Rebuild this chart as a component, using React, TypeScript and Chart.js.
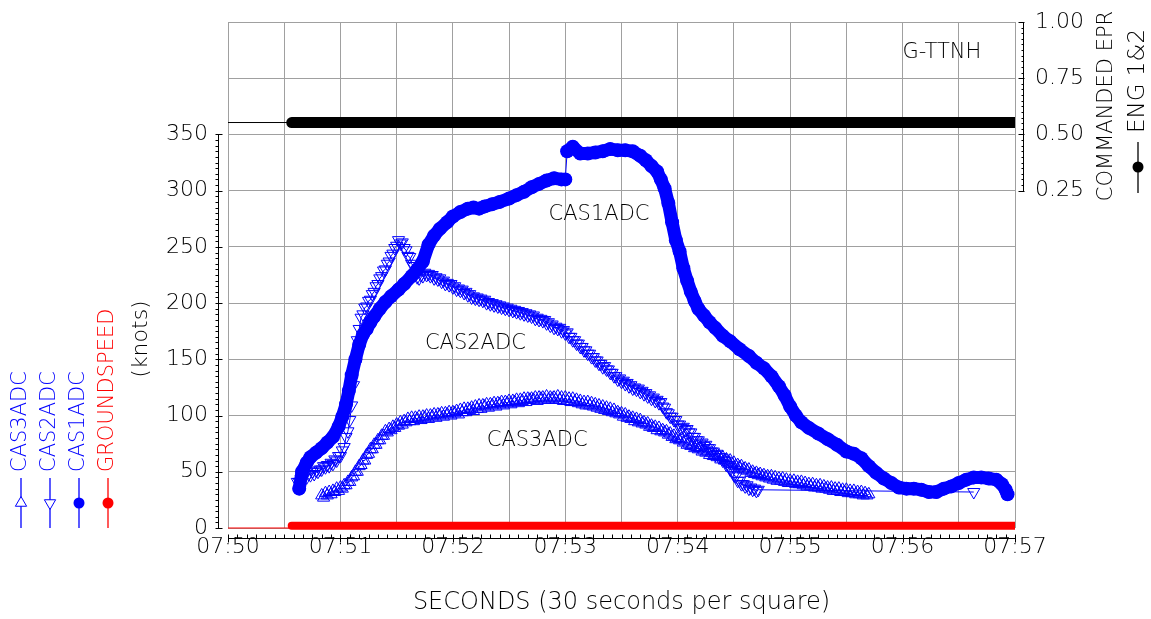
import React, { useEffect, useRef } from 'react';
import { Chart, registerables } from 'chart.js';

Chart.register(...registerables);

// ---------------- data ----------------
// time axis: seconds after 07:50:00
const X_MIN_S = 0;
const X_MAX_S = 420;
const X_GRID_STEP_S = 30;
const X_LABEL_STEP_S = 60;
const BASE_HOUR = 7;
const BASE_MINUTE = 50;

const KNOTS_MIN = 0;
const KNOTS_MAX = 450;
const KNOTS_STEP = 50;
const KNOTS_LABEL_MAX = 350;

const EPR_MIN = -1.25;
const EPR_MAX = 1.0;
const EPR_STEP = 0.25;
const EPR_LABEL_MIN = 0.25;

// CAS1ADC (filled circles)
const CAS1_TIMES = [
  38, 39.5, 42, 44, 47, 50, 53, 56, 59, 61, 63, 64.5, 66, 68, 70, 72, 74, 76, 78, 81,
  84, 87, 91, 94, 98, 101, 104, 107, 110, 113, 117, 120, 124, 128, 131, 134, 137, 141, 145, 150,
  154, 158, 162, 166, 170, 174, 178, 180, 181, 184, 188, 192, 196, 200, 204, 208, 212, 216, 220, 223,
  226, 229, 231, 233, 235, 237, 239, 241, 243, 245, 247, 249, 251, 254, 257, 260, 264, 268, 273, 278,
  282, 286, 290, 294, 297, 300, 303, 306, 310, 315, 320, 325, 330, 334, 338, 342, 346, 350, 354, 358,
  362, 366, 370, 374, 378, 382, 386, 390, 394, 398, 402, 406, 410, 413, 415, 416,
];
const CAS1_KNOTS = [
  35, 50, 58, 63, 67, 71, 76, 81, 90, 99, 110, 122, 136, 150, 163, 172, 177, 183, 188, 195,
  201, 206, 212, 217, 224, 230, 237, 252, 260, 266, 272, 277, 281, 284, 285, 284, 286, 288, 290, 293,
  296, 299, 303, 306, 309, 311, 310, 310, 335, 339, 333, 333, 334, 335, 337, 336, 336, 335, 331, 327,
  322, 317, 310, 302, 289, 272, 256, 246, 231, 220, 210, 202, 195, 189, 183, 178, 171, 166, 159, 153,
  147, 142, 135, 126, 118, 108, 100, 94, 89, 84, 79, 74, 68, 66, 62, 55, 49, 44, 40, 36,
  35, 35, 34, 32, 32, 35, 37, 40, 43, 45, 45, 44, 43, 39, 34, 30,
];

// CAS2ADC (open down triangles), 1 s samples from 37 s, plus one last sample
const CAS2_START_S = 37;
const CAS2_STEP_S = 1;
const CAS2_KNOTS = [
  41, 41, 44, 44, 47, 45, 48, 47, 50, 48,
  51, 50, 52, 52, 55, 54, 56, 55, 58, 57,
  61, 60, 64, 64, 69, 72, 81, 86, 96, 109,
  127, 145, 167, 177, 187, 190, 196, 197, 202, 203,
  208, 210, 215, 217, 222, 224, 229, 230, 235, 237,
  242, 244, 249, 251, 256, 253, 254, 249, 247, 242,
  241, 235, 233, 226, 223, 222, 225, 224, 227, 225,
  226, 224, 225, 222, 223, 221, 222, 219, 220, 217,
  218, 216, 217, 214, 215, 212, 213, 211, 212, 209,
  210, 207, 208, 205, 206, 204, 205, 203, 204, 202,
  203, 200, 201, 199, 200, 198, 199, 197, 198, 196,
  197, 195, 196, 194, 195, 193, 194, 192, 193, 191,
  192, 190, 191, 189, 190, 188, 189, 186, 187, 185,
  186, 184, 185, 182, 183, 180, 181, 178, 179, 177,
  178, 175, 176, 173, 174, 170, 170, 167, 167, 164,
  164, 161, 161, 158, 158, 155, 155, 152, 152, 149,
  149, 146, 146, 143, 144, 141, 141, 138, 138, 135,
  135, 132, 133, 130, 131, 128, 129, 126, 127, 124,
  125, 123, 124, 121, 122, 119, 120, 117, 118, 115,
  116, 113, 114, 111, 112, 108, 107, 103, 102, 99,
  99, 96, 96, 92, 92, 89, 90, 87, 88, 85,
  85, 81, 81, 78, 78, 75, 76, 73, 74, 71,
  71, 68, 68, 65, 66, 63, 63, 60, 60, 56,
  56, 52, 51, 47, 46, 42, 42, 39, 39, 37,
  38, 35, 36, 34, 35, 33, 34,
];
const CAS2_LAST_TIME = 398;
const CAS2_LAST_KNOTS = 32;

// CAS3ADC (open up triangles), 1 s samples from 50 s
const CAS3_START_S = 50;
const CAS3_STEP_S = 1;
const CAS3_KNOTS = [
  29, 27, 31, 29, 32, 30, 33, 32, 35, 33,
  36, 35, 38, 38, 41, 41, 45, 46, 50, 50,
  55, 56, 60, 60, 65, 66, 70, 70, 74, 74,
  78, 78, 82, 82, 86, 85, 88, 87, 90, 89,
  92, 91, 94, 92, 95, 94, 97, 95, 98, 95,
  98, 97, 99, 96, 99, 98, 100, 97, 100, 99,
  101, 98, 101, 100, 102, 99, 102, 101, 103, 100,
  103, 102, 104, 101, 105, 103, 106, 103, 106, 105,
  107, 104, 108, 106, 109, 106, 109, 108, 110, 107,
  110, 109, 111, 108, 111, 110, 112, 109, 112, 111,
  113, 110, 113, 112, 114, 111, 114, 113, 115, 112,
  115, 114, 115, 114, 116, 113, 116, 115, 116, 114,
  117, 114, 116, 115, 116, 114, 117, 114, 116, 113,
  116, 113, 115, 112, 115, 112, 114, 111, 113, 110,
  112, 109, 112, 109, 111, 108, 110, 107, 109, 106,
  108, 105, 107, 104, 106, 103, 105, 102, 103, 101,
  102, 99, 101, 98, 99, 97, 98, 95, 97, 94,
  96, 93, 94, 92, 93, 90, 91, 89, 90, 87,
  89, 86, 87, 85, 86, 83, 84, 81, 82, 79,
  80, 78, 79, 76, 77, 74, 75, 73, 74, 71,
  72, 70, 71, 68, 69, 67, 68, 65, 67, 64,
  65, 63, 64, 61, 63, 60, 61, 59, 60, 57,
  58, 55, 56, 54, 55, 52, 53, 51, 52, 49,
  50, 48, 49, 47, 48, 46, 47, 45, 46, 44,
  46, 43, 45, 42, 44, 42, 44, 41, 43, 40,
  42, 40, 42, 39, 41, 39, 41, 38, 40, 37,
  39, 37, 39, 36, 38, 36, 38, 35, 37, 35,
  36, 34, 36, 33, 35, 33, 35, 32, 34, 32,
  34, 31, 33, 31, 33, 30, 32, 30, 32, 29,
  31, 29, 30,
];

// GROUNDSPEED (red)
const GS_TIMES = [0, 33, 34, 420];
const GS_KNOTS = [0, 0, 2, 2];

// COMMANDED EPR ENG 1&2 (black, right axis)
const EPR_TIMES = [0, 34, 420];
const EPR_VALUES = [0.553, 0.553, 0.553];

// in-plot labels: [text, seconds, knots]
const PLOT_LABELS: [string, number, number][] = [
  ['G-TTNH', 381, 423],
  ['CAS1ADC', 198, 279],
  ['CAS2ADC', 132, 164],
  ['CAS3ADC', 165, 78],
];

// ---------------- helpers ----------------
const FONT = "'DejaVu Sans', sans-serif";
const FW = '200';
const BLUE = '#0000ff';
const RED = '#ff0000';
const GRID = '#a0a0a0';
const TXT = '#000000';

function sampled(start: number, step: number, values: number[]) {
  return values.map((v, i) => ({ x: start + i * step, y: v }));
}
function paired(times: number[], values: number[]) {
  return times.map((t, i) => ({ x: t, y: values[i] }));
}
function timeLabel(s: number) {
  const total = BASE_MINUTE + Math.round(s / 60);
  const h = BASE_HOUR + Math.floor(total / 60);
  const m = total % 60;
  return `${String(h).padStart(2, '0')}:${String(m).padStart(2, '0')}`;
}

function rotatedText(ctx: CanvasRenderingContext2D, text: string, x: number, y: number, align: CanvasTextAlign, font: string, color: string) {
  ctx.save();
  ctx.translate(x, y);
  ctx.rotate(-Math.PI / 2);
  ctx.font = font;
  ctx.fillStyle = color;
  ctx.textAlign = align;
  ctx.textBaseline = 'middle';
  ctx.fillText(text, 0, 0);
  ctx.restore();
}

function marker(ctx: CanvasRenderingContext2D, kind: string, x: number, y: number, color: string) {
  ctx.save();
  ctx.strokeStyle = color;
  ctx.fillStyle = color;
  ctx.lineWidth = 1;
  const r = 6.5;
  if (kind === 'up' || kind === 'down') {
    const s = kind === 'up' ? 1 : -1;
    ctx.beginPath();
    ctx.moveTo(x, y - s * r);
    ctx.lineTo(x + r * 0.866, y + s * r * 0.5);
    ctx.lineTo(x - r * 0.866, y + s * r * 0.5);
    ctx.closePath();
    ctx.fillStyle = '#ffffff';
    ctx.fill();
    ctx.stroke();
  } else {
    ctx.beginPath();
    ctx.arc(x, y, 5.5, 0, Math.PI * 2);
    ctx.fill();
  }
  ctx.restore();
}

const LEGEND_ITEMS: { text: string; color: string; kind: string }[] = [
  { text: 'CAS3ADC', color: BLUE, kind: 'up' },
  { text: 'CAS2ADC', color: BLUE, kind: 'down' },
  { text: 'CAS1ADC', color: BLUE, kind: 'dot' },
  { text: 'GROUNDSPEED', color: RED, kind: 'dot' },
];

const decorPlugin = {
  id: 'decor',
  afterDraw(chart: any) {
    const { ctx, chartArea: ca, scales } = chart;
    const xs = scales.x;
    const ys = scales.y;
    const ys1 = scales.y1;
    ctx.save();
    ctx.strokeStyle = '#000';
    ctx.lineWidth = 1;

    // left ruler (knots), minor ticks every 5 knots
    const lx = Math.round(ca.left) - 10 + 0.5;
    ctx.beginPath();
    ctx.moveTo(lx, Math.round(ys.getPixelForValue(0)) + 0.5);
    ctx.lineTo(lx, Math.round(ys.getPixelForValue(KNOTS_LABEL_MAX)) + 0.5);
    for (let v = 0; v <= KNOTS_LABEL_MAX; v += 5) {
      const py = Math.round(ys.getPixelForValue(v)) + 0.5;
      const major = v % KNOTS_STEP === 0;
      ctx.moveTo(lx - 3, py);
      ctx.lineTo(major ? lx + 4 : lx, py);
    }
    ctx.stroke();

    // bottom ruler (time), minor ticks every 5 s
    const by = Math.round(ca.bottom) + 10 + 0.5;
    ctx.beginPath();
    ctx.moveTo(xs.getPixelForValue(X_MIN_S), by);
    ctx.lineTo(xs.getPixelForValue(X_MAX_S), by);
    for (let s = X_MIN_S; s <= X_MAX_S; s += 5) {
      const px = Math.round(xs.getPixelForValue(s)) + 0.5;
      const major = s % X_LABEL_STEP_S === 0;
      ctx.moveTo(px, by - 4);
      ctx.lineTo(px, major ? by + 4 : by);
    }
    ctx.stroke();

    // right ruler (EPR)
    const rx = Math.round(ca.right) + 8 + 0.5;
    ctx.beginPath();
    ctx.moveTo(rx, Math.round(ys1.getPixelForValue(EPR_LABEL_MIN)) + 0.5);
    ctx.lineTo(rx, Math.round(ys1.getPixelForValue(EPR_MAX)) + 0.5);
    for (let i = 0; i <= 30; i++) {
      const v = EPR_LABEL_MIN + i * 0.025;
      const py = Math.round(ys1.getPixelForValue(v)) + 0.5;
      const major = i % 10 === 0;
      ctx.moveTo(major ? rx - 5 : rx - 2, py);
      ctx.lineTo(major ? rx + 1 : rx, py);
    }
    ctx.stroke();

    // in-plot labels
    ctx.font = `${FW} 21px ${FONT}`;
    ctx.fillStyle = TXT;
    ctx.textAlign = 'center';
    ctx.textBaseline = 'middle';
    for (const [text, t, v] of PLOT_LABELS) {
      ctx.fillText(text, xs.getPixelForValue(t), ys.getPixelForValue(v));
    }

    // left legend
    LEGEND_ITEMS.forEach((it, i) => {
      const cx = 21 + i * 29;
      ctx.beginPath();
      ctx.strokeStyle = it.color;
      ctx.lineWidth = 1.3;
      ctx.moveTo(cx, 478);
      ctx.lineTo(cx, 528);
      ctx.stroke();
      marker(ctx, it.kind, cx, 503, it.color);
      rotatedText(ctx, it.text, cx, 472, 'left', `${FW} 21px ${FONT}`, it.color);
    });
    rotatedText(ctx, '(knots)', 141, 339, 'center', `${FW} 22px ${FONT}`, TXT);

    // right axis title + legend
    rotatedText(ctx, 'COMMANDED EPR', 1107, 106, 'center', `${FW} 21px ${FONT}`, TXT);
    rotatedText(ctx, 'ENG 1&2', 1138, 81, 'center', `${FW} 23px ${FONT}`, TXT);
    ctx.beginPath();
    ctx.strokeStyle = '#000';
    ctx.lineWidth = 1.3;
    ctx.moveTo(1138, 142);
    ctx.lineTo(1138, 193);
    ctx.stroke();
    marker(ctx, 'dot', 1138, 167, '#000');

    ctx.restore();
  },
};

export default function App() {
  const ref = useRef<HTMLCanvasElement | null>(null);

  useEffect(() => {
    const canvas = ref.current;
    if (!canvas) return;

    const cas1 = paired(CAS1_TIMES, CAS1_KNOTS);
    const cas2 = sampled(CAS2_START_S, CAS2_STEP_S, CAS2_KNOTS).concat([{ x: CAS2_LAST_TIME, y: CAS2_LAST_KNOTS }]);
    const cas3 = sampled(CAS3_START_S, CAS3_STEP_S, CAS3_KNOTS);
    const gs = paired(GS_TIMES, GS_KNOTS);
    const epr = paired(EPR_TIMES, EPR_VALUES);

    const tickFont = { family: FONT, size: 22, weight: FW };

    const chart = new Chart(canvas, {
      type: 'line',
      data: {
        datasets: [
          {
            label: 'CAS1ADC',
            data: cas1,
            yAxisID: 'y',
            borderColor: BLUE,
            backgroundColor: BLUE,
            borderWidth: 13,
            borderCapStyle: 'round',
            borderJoinStyle: 'round',
            pointRadius: 7,
            pointBorderWidth: 0,
            pointBackgroundColor: BLUE,
            segment: {
              borderWidth: (c: any) => (Math.abs(c.p1.parsed.y - c.p0.parsed.y) > 20 ? 1 : 13),
            },
            clip: 0,
          } as any,
          {
            label: 'CAS2ADC',
            data: cas2,
            yAxisID: 'y',
            borderColor: BLUE,
            borderWidth: 1,
            pointStyle: 'triangle',
            pointRotation: 180,
            pointRadius: 7,
            pointBorderWidth: 1,
            pointBorderColor: BLUE,
            pointBackgroundColor: 'rgba(0,0,0,0)',
            clip: 0,
          } as any,
          {
            label: 'CAS3ADC',
            data: cas3,
            yAxisID: 'y',
            borderColor: BLUE,
            borderWidth: 1,
            pointStyle: 'triangle',
            pointRadius: 7,
            pointBorderWidth: 1,
            pointBorderColor: BLUE,
            pointBackgroundColor: 'rgba(0,0,0,0)',
            clip: 0,
          } as any,
          {
            label: 'GROUNDSPEED',
            data: gs,
            yAxisID: 'y',
            borderColor: RED,
            borderWidth: 8,
            borderCapStyle: 'round',
            pointRadius: 0,
            segment: {
              borderWidth: (c: any) => (c.p0DataIndex < 2 ? 1.2 : 8),
            },
            clip: { left: 0, top: 0, right: 0, bottom: 2 },
          } as any,
          {
            label: 'COMMANDED EPR ENG 1&2',
            data: epr,
            yAxisID: 'y1',
            borderColor: '#000',
            borderWidth: 11,
            borderCapStyle: 'round',
            pointRadius: 0,
            segment: {
              borderWidth: (c: any) => (c.p0DataIndex < 1 ? 1 : 11),
            },
            clip: 0,
          } as any,
        ],
      },
      options: {
        animation: false,
        responsive: false,
        maintainAspectRatio: false,
        parsing: false,
        normalized: true,
        layout: { padding: { top: 22, left: 0, right: 0, bottom: 0 } },
        plugins: {
          legend: { display: false },
          tooltip: { enabled: false },
        },
        elements: { line: { tension: 0 } },
        scales: {
          x: {
            type: 'linear',
            min: X_MIN_S,
            max: X_MAX_S,
            afterFit: (s: any) => { s.height = 91; s.paddingLeft = 0; s.paddingRight = 0; },
            grid: { color: GRID, lineWidth: 1, drawTicks: false },
            border: { display: false },
            ticks: {
              stepSize: X_GRID_STEP_S,
              autoSkip: false,
              maxRotation: 0,
              padding: 6,
              color: TXT,
              font: tickFont,
              callback: (v: any) => (Number(v) % X_LABEL_STEP_S === 0 ? timeLabel(Number(v)) : ''),
            },
            title: {
              display: true,
              text: 'SECONDS (30 seconds per square)',
              color: TXT,
              font: { family: FONT, size: 24, weight: FW },
              padding: { top: 0, bottom: 2 },
            },
          },
          y: {
            type: 'linear',
            position: 'left',
            min: KNOTS_MIN,
            max: KNOTS_MAX,
            afterFit: (s: any) => { s.width = 228; s.paddingTop = 0; s.paddingBottom = 0; },
            grid: { color: GRID, lineWidth: 1, drawTicks: false },
            border: { display: false },
            ticks: {
              stepSize: KNOTS_STEP,
              padding: 20,
              color: TXT,
              font: tickFont,
              callback: (v: any) => (Number(v) <= KNOTS_LABEL_MAX ? String(v) : ''),
            },
          },
          y1: {
            type: 'linear',
            position: 'right',
            min: EPR_MIN,
            max: EPR_MAX,
            afterFit: (s: any) => { s.width = 136; s.paddingTop = 0; s.paddingBottom = 0; },
            grid: { display: false, drawTicks: false },
            border: { display: false },
            ticks: {
              stepSize: EPR_STEP,
              padding: 20,
              color: TXT,
              font: tickFont,
              callback: (v: any) => (Number(v) >= EPR_LABEL_MIN - 1e-9 ? Number(v).toFixed(2) : ''),
            },
          },
        },
      } as any,
      plugins: [decorPlugin],
    });

    return () => chart.destroy();
  }, []);

  return (
    <div style={{ position: 'fixed', left: 0, top: 0, width: 1151, height: 619, background: '#fff' }}>
      <canvas ref={ref} width={1151} height={619} />
    </div>
  );
}
